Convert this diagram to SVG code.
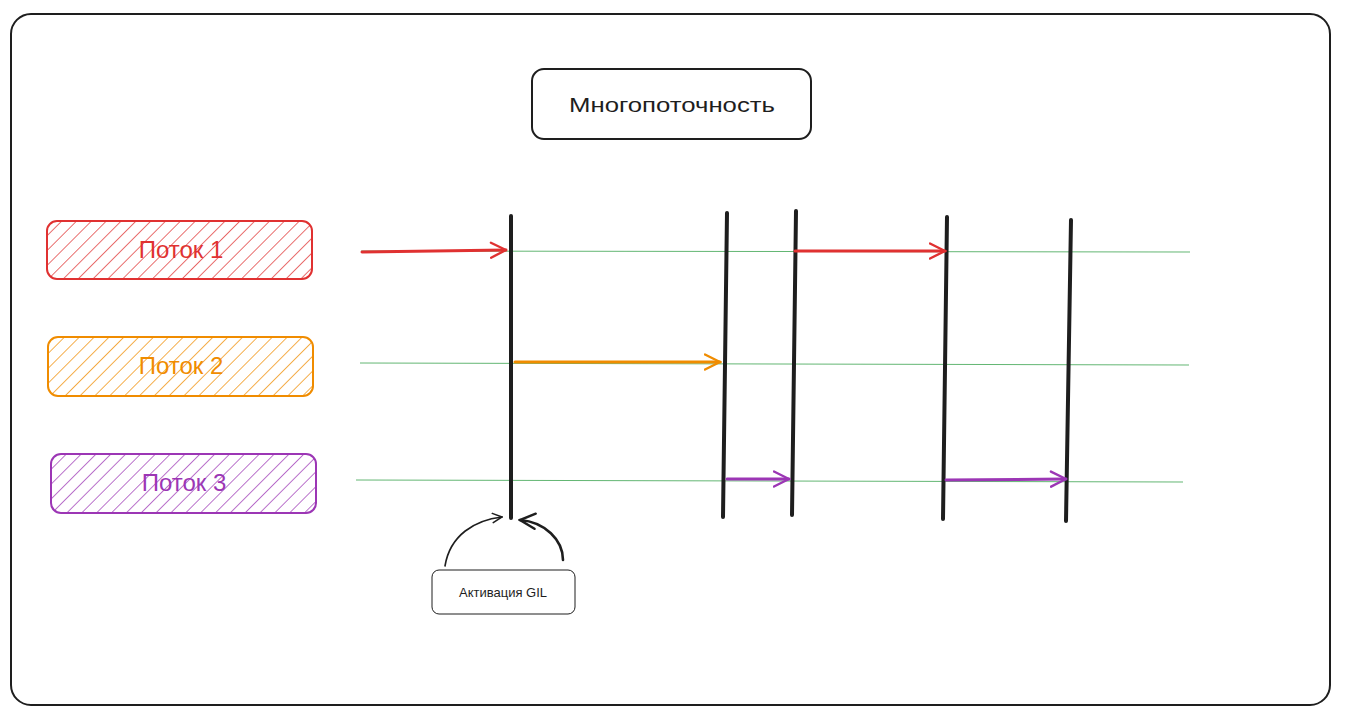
<svg xmlns="http://www.w3.org/2000/svg" width="1346" height="720" viewBox="0 0 1346 720">
<style>
.frame{fill:#fff;stroke:#1e1e1e;stroke-width:2}
.lbl{font-family:"Liberation Sans",Arial,sans-serif;text-anchor:middle;dominant-baseline:central}
.green{stroke:#2f9e44;stroke-width:1;opacity:0.75;fill:none}
.bar{stroke:#1e1e1e;stroke-width:4;stroke-linecap:round;fill:none}
.arr{stroke-width:3;stroke-linecap:round;fill:none}
.red{stroke:#e03131}
.orange{stroke:#f08c00}
.purple{stroke:#9c36b5}
</style>
<defs>
<pattern id="hr" patternUnits="userSpaceOnUse" width="10.5" height="10.5" patternTransform="rotate(45)"><line x1="0" y1="0" x2="0" y2="10.5" stroke="#e03131" stroke-width="1.4"/></pattern>
<pattern id="ho" patternUnits="userSpaceOnUse" width="10.5" height="10.5" patternTransform="rotate(45)"><line x1="0" y1="0" x2="0" y2="10.5" stroke="#f08c00" stroke-width="1.4"/></pattern>
<pattern id="hp" patternUnits="userSpaceOnUse" width="10.5" height="10.5" patternTransform="rotate(45)"><line x1="0" y1="0" x2="0" y2="10.5" stroke="#9c36b5" stroke-width="1.4"/></pattern>
<marker id="mr" viewBox="0 0 12 12" refX="11" refY="6" markerWidth="6" markerHeight="6" orient="auto" markerUnits="strokeWidth"><path d="M1,1 L11,6 L1,11" fill="none" stroke="#e03131" stroke-width="1.6" stroke-linecap="round"/></marker>
<marker id="mo" viewBox="0 0 12 12" refX="11" refY="6" markerWidth="6" markerHeight="6" orient="auto" markerUnits="strokeWidth"><path d="M1,1 L11,6 L1,11" fill="none" stroke="#f08c00" stroke-width="1.6" stroke-linecap="round"/></marker>
<marker id="mp" viewBox="0 0 12 12" refX="11" refY="6" markerWidth="6" markerHeight="6" orient="auto" markerUnits="strokeWidth"><path d="M1,1 L11,6 L1,11" fill="none" stroke="#9c36b5" stroke-width="1.6" stroke-linecap="round"/></marker>
<marker id="mk" viewBox="0 0 12 12" refX="11" refY="6" markerWidth="7" markerHeight="7" orient="auto" markerUnits="strokeWidth"><path d="M1,1 L11,6 L1,11" fill="none" stroke="#1e1e1e" stroke-width="1.6" stroke-linecap="round"/></marker>
</defs>
<rect width="1346" height="720" fill="#fff"/>
<rect id="outer" class="frame" x="11" y="14" width="1319" height="691" rx="20"/>

<g id="title">
<rect class="frame" x="532" y="69" width="279" height="70" rx="12"/>
<text class="lbl" x="672" y="104" font-size="21" fill="#1e1e1e" textLength="206" lengthAdjust="spacingAndGlyphs">Многопоточность</text>
</g>

<g id="thread1">
<rect x="47" y="221" width="265" height="58" rx="10" fill="url(#hr)" stroke="#e03131" stroke-width="2"/>
<text class="lbl" x="181" y="249" font-size="24" fill="#e03131">Поток 1</text>
</g>
<g id="thread2">
<rect x="48" y="337" width="265" height="59" rx="10" fill="url(#ho)" stroke="#f08c00" stroke-width="2"/>
<text class="lbl" x="181" y="365" font-size="24" fill="#f08c00">Поток 2</text>
</g>
<g id="thread3">
<rect x="51" y="454" width="265" height="59" rx="10" fill="url(#hp)" stroke="#9c36b5" stroke-width="2"/>
<text class="lbl" x="184" y="482" font-size="24" fill="#9c36b5">Поток 3</text>
</g>

<g id="gil">
<rect x="432" y="570" width="143" height="44" rx="7" fill="#fff" stroke="#1e1e1e" stroke-width="1"/>
<text class="lbl" x="503" y="592" font-size="13" fill="#1e1e1e">Активация GIL</text>
</g>

<g id="connectors">
<line class="green" x1="361" y1="251" x2="1190" y2="252"/>
<line class="green" x1="360" y1="363" x2="1189" y2="365"/>
<line class="green" x1="356" y1="480" x2="1183" y2="482"/>

<line class="bar" x1="511" y1="216" x2="511" y2="518"/>
<line class="bar" x1="727" y1="213" x2="723" y2="517"/>
<line class="bar" x1="796" y1="211" x2="792" y2="515"/>
<line class="bar" x1="947" y1="217" x2="943" y2="519"/>
<line class="bar" x1="1071" y1="220" x2="1066" y2="521"/>

<line class="arr red" x1="362" y1="252" x2="506" y2="250" marker-end="url(#mr)"/>
<line class="arr red" x1="795" y1="251" x2="945" y2="251" marker-end="url(#mr)"/>
<line class="arr orange" x1="515" y1="362" x2="720" y2="362" marker-end="url(#mo)"/>
<line class="arr purple" x1="727" y1="479" x2="789" y2="479" marker-end="url(#mp)"/>
<line class="arr purple" x1="946" y1="480" x2="1066" y2="479" marker-end="url(#mp)"/>

<path d="M445,566 C450,535 475,520 502,517" fill="none" stroke="#1e1e1e" stroke-width="1.6" stroke-linecap="round" marker-end="url(#mk)"/>
<path d="M563,560 C563,540 545,522 520,520" fill="none" stroke="#1e1e1e" stroke-width="2.6" stroke-linecap="round" marker-end="url(#mk)"/>
</g>
</svg>
